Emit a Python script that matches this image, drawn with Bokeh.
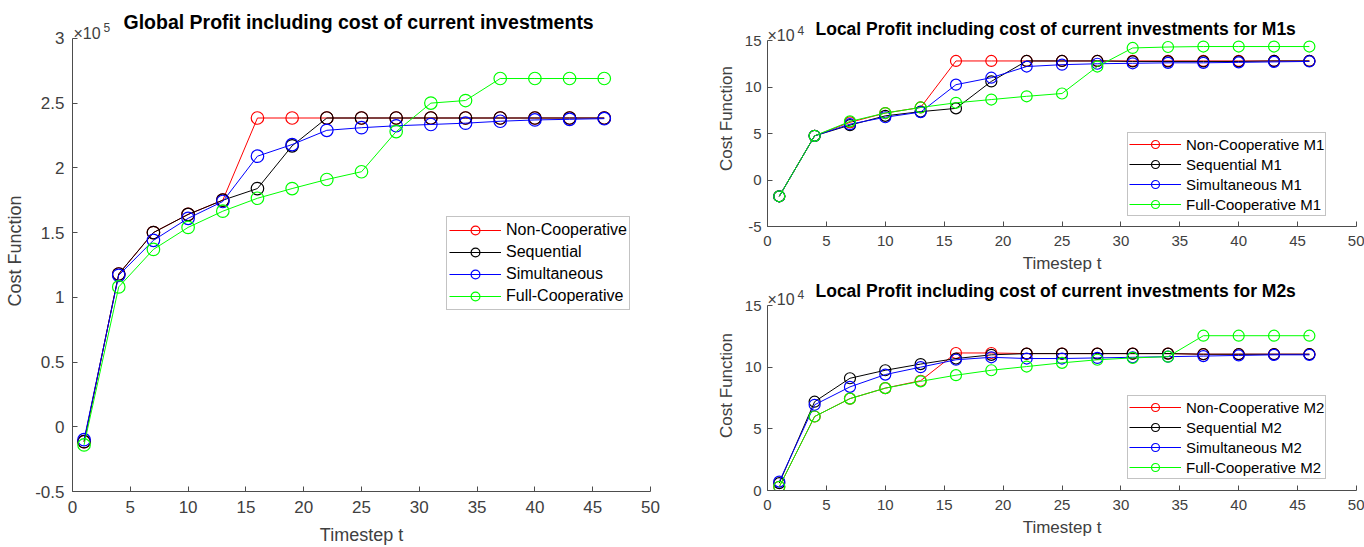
from bokeh.plotting import figure
from bokeh.layouts import row, column
from bokeh.models import Label, FixedTicker, Range1d, Legend, LegendItem
from bokeh.embed import file_html
from bokeh.resources import INLINE

# ---------------- data ----------------
timesteps = [1, 4, 7, 10, 13, 16, 19, 22, 25, 28, 31, 34, 37, 40, 43, 46]

# Global profit (x 1e5)
global_noncoop = [-0.115, 1.18, 1.50, 1.64, 1.75, 2.385, 2.385, 2.385, 2.385, 2.385, 2.385, 2.385, 2.385, 2.385, 2.385, 2.385]
global_seq = [-0.115, 1.18, 1.50, 1.64, 1.75, 1.84, 2.17, 2.385, 2.385, 2.385, 2.385, 2.385, 2.385, 2.385, 2.385, 2.385]
global_sim = [-0.10, 1.17, 1.44, 1.61, 1.74, 2.09, 2.18, 2.29, 2.31, 2.325, 2.335, 2.345, 2.36, 2.37, 2.375, 2.38]
global_full = [-0.14, 1.08, 1.37, 1.54, 1.665, 1.765, 1.84, 1.91, 1.97, 2.28, 2.50, 2.52, 2.69, 2.69, 2.69, 2.69]

# Local profit M1 (x 1e4)
m1_noncoop = [-1.75, 4.75, 6.2, 7.2, 7.8, 12.8, 12.8, 12.8, 12.8, 12.8, 12.8, 12.8, 12.8, 12.8, 12.8, 12.8]
m1_seq = [-1.75, 4.75, 5.9, 6.9, 7.35, 7.7, 10.6, 12.8, 12.8, 12.8, 12.75, 12.75, 12.75, 12.75, 12.8, 12.8]
m1_sim = [-1.75, 4.75, 6.0, 6.75, 7.3, 10.25, 11.0, 12.2, 12.4, 12.5, 12.55, 12.6, 12.6, 12.65, 12.7, 12.75]
m1_full = [-1.75, 4.75, 6.3, 7.2, 7.8, 8.3, 8.65, 9.0, 9.3, 12.2, 14.2, 14.3, 14.35, 14.35, 14.35, 14.35]

# Local profit M2 (x 1e4)
m2_noncoop = [0.3, 6.0, 7.45, 8.3, 8.9, 11.15, 11.15, 11.1, 11.1, 11.1, 11.1, 11.1, 11.05, 11.05, 11.05, 11.05]
m2_seq = [0.6, 7.2, 9.1, 9.75, 10.25, 10.7, 11.0, 11.1, 11.1, 11.1, 11.1, 11.1, 11.05, 11.05, 11.05, 11.05]
m2_sim = [0.72, 6.95, 8.4, 9.4, 10.0, 10.6, 10.8, 10.7, 10.7, 10.75, 10.8, 10.85, 10.9, 10.95, 11.0, 11.0]
m2_full = [0.3, 6.0, 7.45, 8.3, 8.85, 9.35, 9.75, 10.05, 10.35, 10.6, 10.75, 10.85, 12.55, 12.55, 12.55, 12.55]

x_ticks = [0, 5, 10, 15, 20, 25, 30, 35, 40, 45, 50]
y_ticks_global = [-0.5, 0, 0.5, 1, 1.5, 2, 2.5, 3]
y_ticks_m1 = [-5, 0, 5, 10, 15]
y_ticks_m2 = [0, 5, 10, 15]

series_names = ["Non-Cooperative", "Sequential", "Simultaneous", "Full-Cooperative"]
colors = ["#ff0000", "#000000", "#0000ff", "#00ff00"]

FONT = "Liberation Sans"
AX = "#4d4d4d"
TXT = "#404040"


def make_fig(width, height, borders, yticks, px_per_unit, title, t_size, t_off, exp_digit, e_off, s_off,
             tick_size, label_size, stand, series, labels, marker_size,
             leg_loc, leg_font, leg_row, leg_pad):
    bl, br, bt, bb = borders
    frame_h = height - bt - bb
    y0, y1 = yticks[0], yticks[-1]
    y_end = y0 + frame_h / px_per_unit
    p = figure(width=width, height=height, output_backend="svg", toolbar_location=None,
               x_range=Range1d(0, 50), y_range=Range1d(y0, y_end),
               min_border_left=bl, min_border_right=br, min_border_top=bt, min_border_bottom=bb)
    p.outline_line_color = None
    p.xgrid.visible = False
    p.ygrid.visible = False

    p.xaxis.ticker = FixedTicker(ticks=x_ticks)
    p.yaxis.ticker = FixedTicker(ticks=yticks)
    p.yaxis.bounds = (y0, y1)
    p.yaxis.major_label_overrides = {float(v): f"{v:g}" for v in yticks}
    p.xaxis.major_label_overrides = {float(v): f"{v:g}" for v in x_ticks}
    for ax in (p.xaxis, p.yaxis):
        ax.axis_line_color = AX
        ax.axis_line_width = 1
        ax.major_tick_line_color = AX
        ax.major_tick_in = 5
        ax.major_tick_out = 0
        ax.minor_tick_line_color = None
        ax.major_label_text_font = FONT
        ax.major_label_text_font_size = tick_size
        ax.major_label_text_color = TXT
        ax.axis_label_text_font = FONT
        ax.axis_label_text_font_style = "normal"
        ax.axis_label_text_font_size = label_size
        ax.axis_label_text_color = TXT
    p.xaxis.axis_label = "Timestep t"
    p.yaxis.axis_label = "Cost Function"
    p.xaxis.major_label_standoff = stand[0]
    p.xaxis.axis_label_standoff = stand[1]
    p.yaxis.major_label_standoff = stand[2]
    p.yaxis.axis_label_standoff = stand[3]

    items = []
    for vals, col, lab in zip(series, colors, labels):
        r1 = p.line(timesteps, vals, line_color=col, line_width=1)
        r2 = p.scatter(timesteps, vals, marker="circle", size=marker_size,
                       fill_color=None, line_color=col, line_width=1.2)
        items.append(LegendItem(label=lab, renderers=[r1, r2]))

    leg = Legend(items=items, location=leg_loc)
    leg.label_text_font = FONT
    leg.label_text_font_size = leg_font
    leg.label_text_color = "#000000"
    leg.glyph_width = 52
    leg.glyph_height = leg_row
    leg.label_height = leg_row
    leg.label_standoff = 5
    leg.spacing = 0
    leg.padding = leg_pad
    leg.margin = 0
    leg.border_line_color = "#888888"
    leg.border_line_width = 1
    leg.background_fill_color = "#ffffff"
    leg.background_fill_alpha = 1
    p.add_layout(leg)

    # title and axis exponent, placed just above the top tick (inside the extended frame)
    p.add_layout(Label(x=0, y=y1, x_offset=t_off[0], y_offset=t_off[1], text=title,
                       text_font=FONT, text_font_size=t_size, text_font_style="bold",
                       text_color="#000000", text_baseline="middle", text_align="left"))
    p.add_layout(Label(x=0, y=y1, x_offset=e_off[0], y_offset=e_off[1], text="×10",
                       text_font=FONT, text_font_size="16px", text_color=TXT,
                       text_baseline="alphabetic", text_align="left"))
    p.add_layout(Label(x=0, y=y1, x_offset=s_off[0], y_offset=s_off[1], text=exp_digit,
                       text_font=FONT, text_font_size="12px", text_color=TXT,
                       text_baseline="alphabetic", text_align="left"))
    return p


left = make_fig(708, 547, (72, 58, 10, 54), y_ticks_global, 455 / 3.5,
                "Global Profit including cost of current investments", "19.5px", (51, 16),
                "5", (1, 5), (31, 11), "17px", "18px", (9, 9, 8, 7),
                [global_noncoop, global_seq, global_sim, global_full], series_names, 12.5,
                (374, 181), "16px", 22, 2)

top_right = make_fig(656, 278, (59, 8, 10, 52), y_ticks_m1, 186 / 20,
                     "Local Profit including cost of current investments for M1s", "17.5px", (48, 12),
                     "4", (0, 5), (30, 10), "15px", "17px", (9, 5, 6, 6),
                     [m1_noncoop, m1_seq, m1_sim, m1_full], [n + " M1" for n in series_names], 11,
                     (360, 10), "15px", 20, 1)

bottom_right = make_fig(656, 269, (59, 8, 2, 57), y_ticks_m2, 185 / 15,
                        "Local Profit including cost of current investments for M2s", "17.5px", (48, 15),
                        "4", (0, 6), (30, 11), "15px", "17px", (9, 5, 6, 6),
                        [m2_noncoop, m2_seq, m2_sim, m2_full], [n + " M2" for n in series_names], 11,
                        (360, 11), "15px", 20, 1)

layout = row(left, column(top_right, bottom_right))

open("out.html", "w").write(file_html(layout, INLINE))
